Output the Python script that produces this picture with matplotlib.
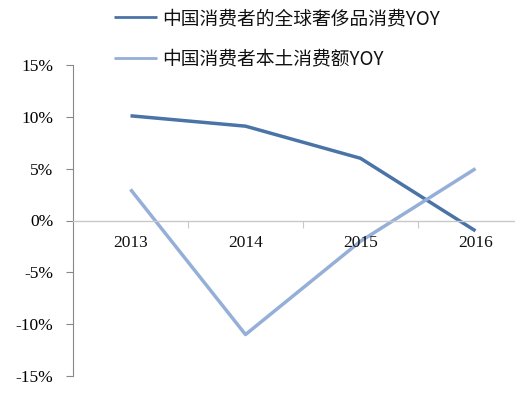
import matplotlib
matplotlib.use("Agg")
import matplotlib.pyplot as plt
from matplotlib.ticker import FuncFormatter

years = ["2013", "2014", "2015", "2016"]
global_luxury_yoy = [10.1, 9.1, 6.0, -1.0]
domestic_yoy = [3.0, -11.0, -2.0, 5.0]
series_names = ["中国消费者的全球奢侈品消费YOY", "中国消费者本土消费额YOY"]
yticks = [-15, -10, -5, 0, 5, 10, 15]

dark = "#4a73a8"
light = "#95afd8"

W, H = 515, 399
fig = plt.figure(figsize=(W / 100, H / 100), dpi=100)
ax = fig.add_axes([73 / W, (H - 376) / H, 460 / W, (376 - 65) / H])

x = list(range(len(years)))
l1, = ax.plot(x, global_luxury_yoy, color=dark, lw=2.5, solid_capstyle="butt")
l2, = ax.plot(x, domestic_yoy, color=light, lw=2.5, solid_capstyle="butt")

ax.set_xlim(-0.5, 3.5)
ax.set_ylim(-15, 15)
ax.set_yticks(yticks)
ax.yaxis.set_major_formatter(FuncFormatter(lambda v, p: f"{int(v)}%"))

for s in ["top", "right"]:
    ax.spines[s].set_visible(False)
ax.spines["left"].set_color("#888888")
ax.spines["bottom"].set_position(("data", 0))
ax.spines["bottom"].set_color("#c8c8c8")
ax.spines["bottom"].set_linewidth(1.0)

ax.set_xticks([0.5, 1.5, 2.5], minor=False)
ax.set_xticklabels([])
ax.tick_params(axis="x", which="major", direction="out", length=5, color="#c8c8c8")
ax.tick_params(axis="y", direction="out", length=5, color="#888888", pad=9,
               labelsize=12.5)
for lab in ax.get_yticklabels():
    lab.set_fontfamily("Liberation Serif")

for i, yr in enumerate(years):
    ax.text(i, -2.2, yr, ha="center", va="center", fontsize=12.5,
            family="Liberation Serif", color="#111111")

fam = ["Noto Sans CJK SC", "DejaVu Sans"]
fs = 13.5
leg = fig.legend([l1, l2], series_names, loc="upper left",
                 bbox_to_anchor=(114 / W, 1 - 8 / H), frameon=False,
                 prop={"family": fam, "size": fs}, handlelength=2.3,
                 handletextpad=0.27, labelspacing=1.05, borderpad=0,
                 borderaxespad=0)
for t in leg.get_texts():
    t.set_color("#111111")
for h in leg.get_lines():
    h.set_linewidth(2)

fig.savefig("out.png", dpi=100)
